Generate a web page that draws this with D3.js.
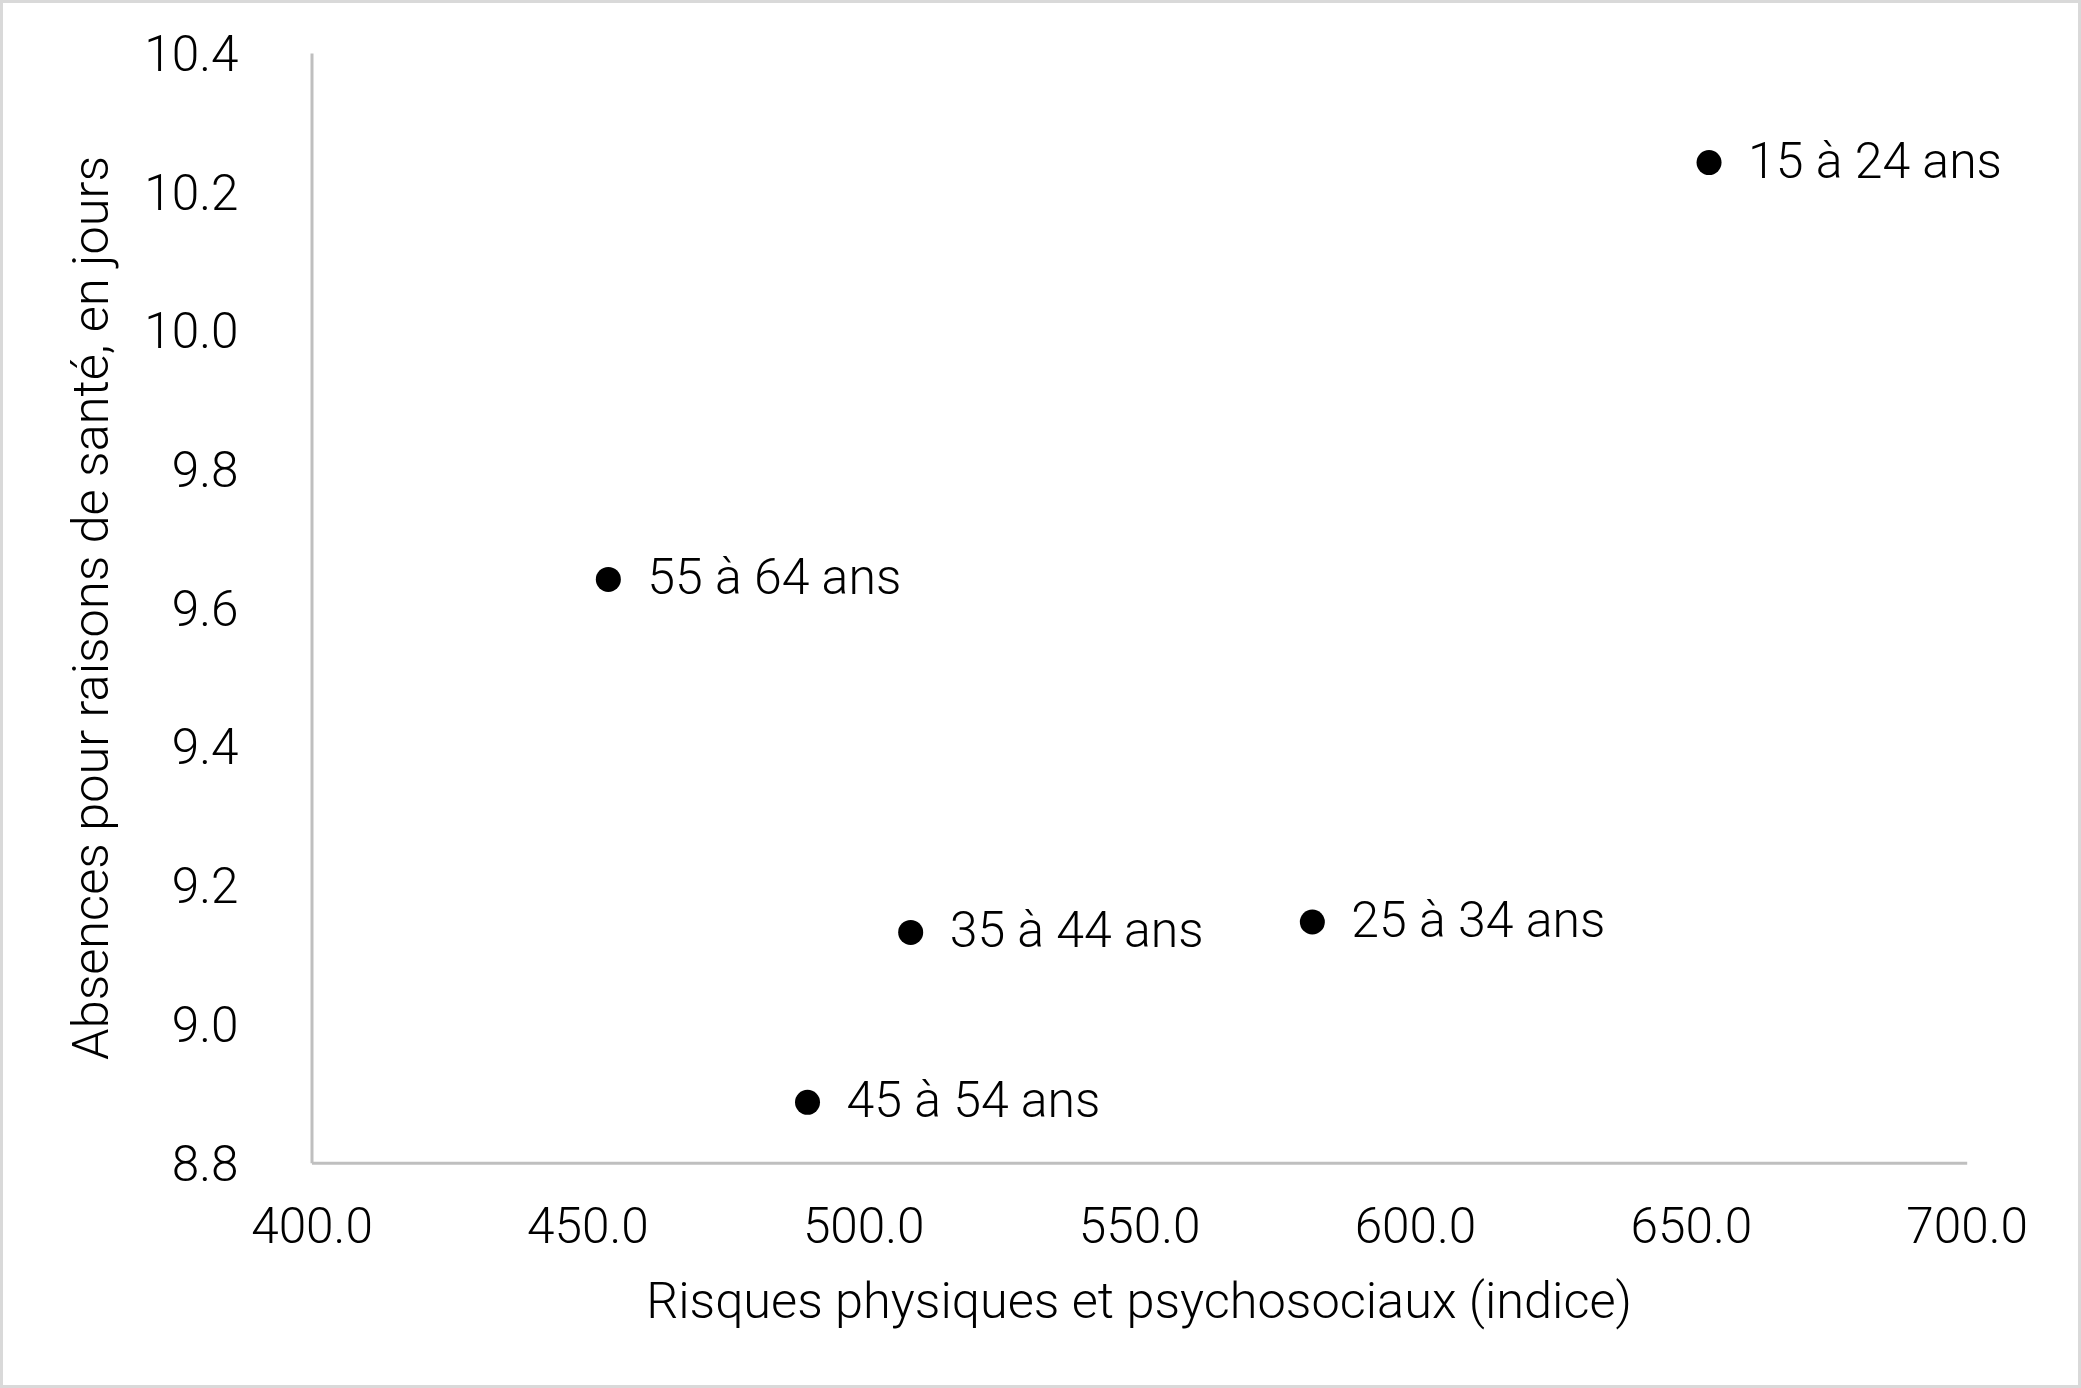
<!DOCTYPE html>
<html><head><meta charset="utf-8">
<script src="https://cdn.jsdelivr.net/npm/d3@7"></script>
<style>
html,body{margin:0;padding:0;background:#fff;}
svg{display:block;font-family:Roboto,"Noto Sans",sans-serif;}
</style></head><body>
<script>
const labels = ["15 à 24 ans","25 à 34 ans","35 à 44 ans","45 à 54 ans","55 à 64 ans"];
const risques = [653.3, 581.4, 508.6, 489.9, 453.8];
const absences = [10.242, 9.147, 9.132, 8.887, 9.641];
const xTicks = [400,450,500,550,600,650,700];
const yTicks = [8.8,9.0,9.2,9.4,9.6,9.8,10.0,10.2,10.4];
const xTitle = "Risques physiques et psychosociaux (indice)";
const yTitle = "Absences pour raisons de santé, en jours";

const W = 2081, H = 1388;
const svg = d3.select("body").append("svg").attr("width", W).attr("height", H);
svg.append("rect").attr("x",1.5).attr("y",1.5).attr("width",W-3).attr("height",H-3)
  .attr("fill","#fff").attr("stroke","#d9d9d9").attr("stroke-width",3);

const x = d3.scaleLinear().domain([400,700]).range([311.5,1966.7]);
const y = d3.scaleLinear().domain([8.8,10.4]).range([1162.7,53]);

const fw = 300, fs = 49.5, fl = 50.5, fp = 50;
// axes
const xAxis = svg.append("g").attr("transform",`translate(0,${y(8.8)})`)
  .call(d3.axisBottom(x).tickValues(xTicks).tickFormat(d3.format(".1f")).tickSize(0).tickPadding(45));
const yAxis = svg.append("g").attr("transform",`translate(${x(400)},0)`)
  .call(d3.axisLeft(y).tickValues(yTicks).tickFormat(d3.format(".1f")).tickSize(0).tickPadding(73));
[xAxis,yAxis].forEach(g=>{
  g.select(".domain").attr("stroke","#bfbfbf").attr("stroke-width",3);
  g.selectAll("text").attr("font-family","Roboto").attr("font-weight",fw).attr("font-size",fs).attr("fill","#000");
});
yAxis.selectAll("text").attr("dy","0.35em");
xAxis.selectAll("text").attr("dy","0.71em");

// points
const data = labels.map((l,i)=>({l, x:risques[i], y:absences[i]}));
svg.append("g").selectAll("circle").data(data).join("circle")
  .attr("cx",d=>x(d.x)).attr("cy",d=>y(d.y)).attr("r",12.5).attr("fill","#000");
svg.append("g").selectAll("text").data(data).join("text")
  .attr("x",d=>x(d.x)+39).attr("y",d=>y(d.y)).attr("dy","0.3em")
  .attr("font-family","Roboto").attr("font-weight",fw).attr("font-size",fp).attr("fill","#000")
  .text(d=>d.l);

// titles
svg.append("text").attr("x",(x(400)+x(700))/2).attr("y",1300).attr("dy","0.35em")
  .attr("text-anchor","middle").attr("font-family","Roboto").attr("font-weight",fw).attr("font-size",fl).attr("fill","#000")
  .text(xTitle);
svg.append("text").attr("transform",`translate(90,${(y(8.8)+y(10.4))/2}) rotate(-90)`).attr("dy","0.35em")
  .attr("text-anchor","middle").attr("font-family","Roboto").attr("font-weight",fw).attr("font-size",fl).attr("fill","#000")
  .text(yTitle);
</script>
</body></html>
